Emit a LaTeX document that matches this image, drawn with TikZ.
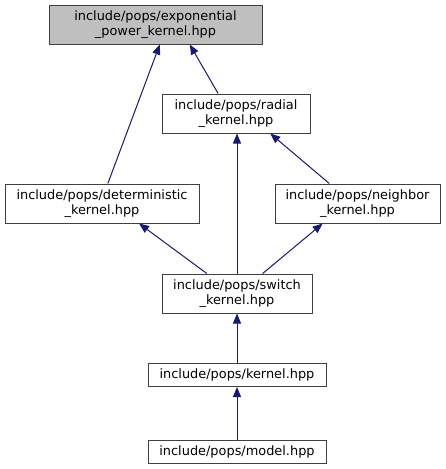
\documentclass[tikz,border=0pt]{standalone}
\usepackage{fontspec}
\setmainfont{DejaVu Sans}
\usetikzlibrary{arrows.meta,calc}
\definecolor{edgeblue}{HTML}{191970}
\definecolor{boxline}{HTML}{404040}
\definecolor{rootfill}{HTML}{BFBFBF}
\tikzset{
  filebox/.style={draw=boxline, line width=1pt, fill=white, inner sep=0pt, align=center,
    font=\fontsize{12.9}{15}\selectfont},
  rootbox/.style={filebox, fill=rootfill},
  dep/.style={draw=edgeblue, line width=1pt, -{Triangle[length=10pt,width=8pt]}},
}
\begin{document}
\begin{tikzpicture}[x=1pt,y=-1pt]
\useasboundingbox (0,0) rectangle (445,469);
\node[rootbox, minimum width=213pt, minimum height=39pt] (exp) at (155.5,24.5) {include/pops/exponential\\\_power\_kernel.hpp};
\node[filebox, minimum width=148pt, minimum height=39pt] (rad) at (236,113.5) {include/pops/radial\\\_kernel.hpp};
\node[filebox, minimum width=194pt, minimum height=39pt] (det) at (102,203.5) {include/pops/deterministic\\\_kernel.hpp};
\node[filebox, minimum width=165pt, minimum height=39pt] (nei) at (357.5,203.5) {include/pops/neighbor\\\_kernel.hpp};
\node[filebox, minimum width=150pt, minimum height=39pt] (sw) at (237,293.5) {include/pops/switch\\\_kernel.hpp};
\node[filebox, minimum width=178pt, minimum height=23pt] (ker) at (237,375) {include/pops/kernel.hpp};
\node[filebox, minimum width=178pt, minimum height=23pt] (mod) at (237,451.5) {include/pops/model.hpp};
\draw[dep] ($(det.north west)!0.53!(det.north east)$) -- ($(exp.south west)!0.52!(exp.south east)$);
\draw[dep] ($(rad.north west)!0.38!(rad.north east)$) -- ($(exp.south west)!0.66!(exp.south east)$);
\draw[dep] (sw.north) -- (sw.north |- rad.south);
\draw[dep] ($(nei.north west)!0.33!(nei.north east)$) -- ($(rad.south west)!0.73!(rad.south east)$);
\draw[dep] ($(sw.north west)!0.30!(sw.north east)$) -- ($(det.south west)!0.69!(det.south east)$);
\draw[dep] ($(sw.north west)!0.67!(sw.north east)$) -- ($(nei.south west)!0.29!(nei.south east)$);
\draw[dep] (ker.north) -- (sw.south);
\draw[dep] (mod.north) -- (ker.south);
\end{tikzpicture}
\end{document}
